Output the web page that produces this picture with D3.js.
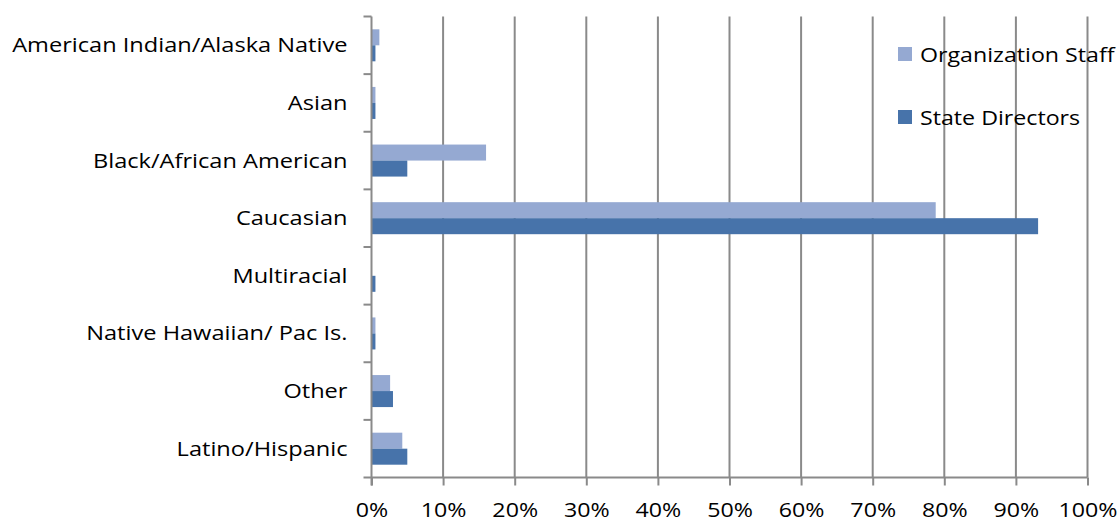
<!DOCTYPE html>
<html>
<head>
<meta charset="utf-8">
<script src="https://cdn.jsdelivr.net/npm/d3@7/dist/d3.min.js"></script>
<style>
  body { margin: 0; background: #fff; }
  svg { display: block; }
  text { font-family: "Open Sans", sans-serif; fill: #000; }
</style>
</head>
<body>
<svg id="chart" width="1119" height="521"></svg>
<script>
// Race / ethnicity categories, top to bottom
const categories = [
  "American Indian/Alaska Native",
  "Asian",
  "Black/African American",
  "Caucasian",
  "Multiracial",
  "Native Hawaiian/ Pac Is.",
  "Other",
  "Latino/Hispanic"
];
// Share of each group (percent)
const orgStaff       = [1.1, 0.55, 16.0, 78.8, 0.0, 0.55, 2.6, 4.3];
const stateDirectors = [0.55, 0.55, 5.0, 93.1, 0.55, 0.55, 3.0, 5.0];
const seriesNames  = ["Organization Staff", "State Directors"];
const seriesColors = ["#95a9d2", "#4773aa"];
const xTicks = [0, 10, 20, 30, 40, 50, 60, 70, 80, 90, 100];

const svg = d3.select("#chart");
const width = 1119, height = 521;
const margin = { left: 371.5, right: width - 1087.5, top: 16.5, bottom: height - 477.5 };
const fontSize = 20;
const stretch = 1.16;      // wide letterforms
const catStretch = 1.18;

const x = d3.scaleLinear().domain([0, 100]).range([margin.left, width - margin.right]);
const y = d3.scaleBand().domain(categories).range([margin.top, height - margin.bottom]);
const inner = d3.scaleBand().domain(seriesNames)
  .range([0, y.bandwidth()]).paddingOuter(0.8).paddingInner(0);

const gridColor = "#8a8a8a";

// Vertical gridlines
svg.append("g")
  .selectAll("line")
  .data(xTicks.slice(1))
  .join("line")
  .attr("x1", d => x(d)).attr("x2", d => x(d))
  .attr("y1", margin.top).attr("y2", height - margin.bottom)
  .attr("stroke", gridColor).attr("stroke-width", 2);

// Bars
const series = [orgStaff, stateDirectors];
series.forEach((vals, si) => {
  svg.append("g")
    .selectAll("rect")
    .data(categories.map((c, i) => ({ c, v: vals[i] })))
    .join("rect")
    .attr("x", x(0))
    .attr("y", d => y(d.c) + inner(seriesNames[si]))
    .attr("width", d => x(d.v) - x(0))
    .attr("height", inner.bandwidth())
    .attr("fill", seriesColors[si]);
});

// X axis
const xAxis = d3.axisBottom(x)
  .tickValues(xTicks)
  .tickFormat(d => d + "%")
  .tickSize(8)
  .tickPadding(17);
const gx = svg.append("g")
  .attr("transform", `translate(0,${height - margin.bottom})`)
  .call(xAxis);
gx.select(".domain").attr("stroke", gridColor).attr("stroke-width", 2)
  .attr("d", `M${x(0) - 8},0H${x(100)}`);
gx.selectAll(".tick line").attr("stroke", gridColor).attr("stroke-width", 2);
gx.selectAll(".tick text")
  .attr("font-size", fontSize)
  .attr("transform", `scale(${stretch},1)`)
  .style("font-family", "'Open Sans', sans-serif");

// Y axis: ticks between categories
const gy = svg.append("g").attr("transform", `translate(${x(0)},0)`);
gy.append("line")
  .attr("x1", 0).attr("x2", 0)
  .attr("y1", margin.top).attr("y2", height - margin.bottom + 8)
  .attr("stroke", gridColor).attr("stroke-width", 2);
gy.selectAll("line.tk")
  .data(categories.map(c => y(c)))
  .join("line")
  .attr("class", "tk")
  .attr("x1", -8).attr("x2", 0)
  .attr("y1", d => d).attr("y2", d => d)
  .attr("stroke", gridColor).attr("stroke-width", 2);
gy.selectAll("text")
  .data(categories)
  .join("text")
  .attr("transform", d => `translate(-24,${y(d) + y.bandwidth() / 2}) scale(${catStretch},1)`)
  .attr("dy", "0.35em")
  .attr("text-anchor", "end")
  .attr("font-size", fontSize)
  .text(d => d);

// Legend
const legend = svg.append("g");
seriesNames.forEach((name, i) => {
  const cy = 54 + i * 63;
  legend.append("rect")
    .attr("x", 898).attr("y", cy - 7).attr("width", 14).attr("height", 14)
    .attr("fill", seriesColors[i]);
  legend.append("text")
    .attr("transform", `translate(920,${cy + 0.5}) scale(${stretch},1)`)
    .attr("dy", "0.35em")
    .attr("font-size", fontSize)
    .text(name);
});
</script>
</body>
</html>
